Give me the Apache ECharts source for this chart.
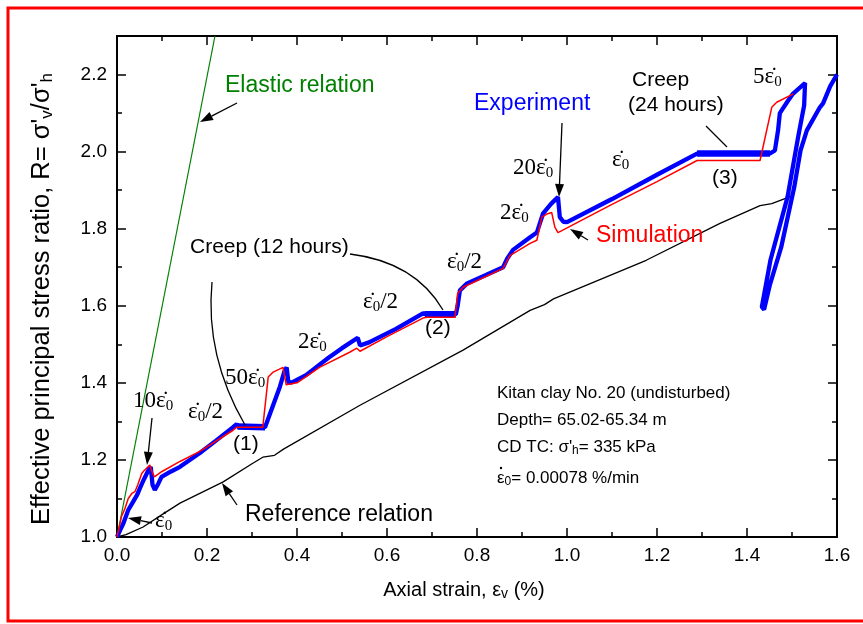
<!DOCTYPE html>
<html><head><meta charset="utf-8">
<script src="https://cdn.jsdelivr.net/npm/echarts@6/dist/echarts.min.js"></script>
<style>html,body{margin:0;padding:0;background:#fff}#c{width:863px;height:624px}</style>
</head><body><div id="c"></div>
<script>
// ---- data ----
const experiment = [[0,1.0],[0.007,1.018],[0.014,1.035],[0.025,1.07],[0.036,1.092],[0.045,1.11],[0.051,1.127],[0.06,1.15],[0.07,1.174],[0.075,1.182],[0.079,1.135],[0.084,1.122],[0.092,1.139],[0.099,1.156],[0.12,1.17],[0.14,1.182],[0.184,1.218],[0.22,1.25],[0.258,1.285],[0.266,1.293],[0.27,1.285],[0.329,1.285],[0.34,1.32],[0.362,1.39],[0.372,1.43],[0.377,1.44],[0.381,1.40],[0.39,1.402],[0.42,1.42],[0.47,1.465],[0.5,1.49],[0.535,1.517],[0.54,1.497],[0.56,1.505],[0.62,1.54],[0.68,1.58],[0.684,1.578],[0.753,1.578],[0.757,1.60],[0.762,1.64],[0.778,1.658],[0.82,1.68],[0.858,1.70],[0.867,1.722],[0.88,1.745],[0.918,1.778],[0.933,1.79],[0.947,1.84],[0.965,1.865],[0.98,1.882],[0.984,1.83],[0.992,1.818],[1.0,1.817],[1.1,1.877],[1.2,1.94],[1.289,1.995],[1.451,1.995],[1.462,2.003],[1.469,2.055],[1.473,2.10],[1.49,2.13],[1.502,2.15],[1.529,2.178],[1.527,2.12],[1.514,2.04],[1.49,1.882],[1.452,1.718],[1.433,1.597],[1.438,1.59],[1.451,1.655],[1.476,1.752],[1.505,1.908],[1.519,2.003],[1.533,2.055],[1.562,2.115],[1.569,2.125],[1.585,2.17],[1.6,2.2]];
const creepSegments = [[[0.268,1.287],[0.329,1.285]],[[0.684,1.578],[0.753,1.578]],[[1.289,1.995],[1.451,1.995]]];
const simulation = [[0,1.0],[0.01,1.053],[0.018,1.075],[0.025,1.1],[0.033,1.113],[0.04,1.118],[0.046,1.135],[0.055,1.165],[0.06,1.172],[0.073,1.187],[0.077,1.172],[0.083,1.156],[0.09,1.162],[0.1,1.17],[0.14,1.196],[0.184,1.222],[0.258,1.277],[0.266,1.285],[0.324,1.285],[0.336,1.415],[0.347,1.428],[0.369,1.44],[0.376,1.395],[0.40,1.40],[0.45,1.44],[0.518,1.48],[0.533,1.49],[0.54,1.482],[0.60,1.52],[0.68,1.568],[0.689,1.57],[0.751,1.57],[0.757,1.632],[0.769,1.648],[0.858,1.697],[0.873,1.73],[0.918,1.762],[0.933,1.77],[0.944,1.83],[0.955,1.838],[0.966,1.842],[0.973,1.804],[0.98,1.79],[1.1,1.863],[1.2,1.922],[1.289,1.977],[1.429,1.977],[1.455,2.115],[1.466,2.128],[1.503,2.15]];
const reference = [[0,1.0],[0.02,1.006],[0.058,1.026],[0.1,1.058],[0.14,1.088],[0.236,1.143],[0.3,1.19],[0.324,1.207],[0.35,1.212],[0.37,1.228],[0.54,1.342],[0.769,1.485],[0.918,1.588],[0.95,1.603],[0.97,1.618],[1.176,1.718],[1.34,1.814],[1.429,1.86],[1.455,1.865],[1.502,1.886]];
const elastic = [[0,1.0],[0.2177,2.3]];
const xRange = [0, 1.6], xStep = 0.2;
const yRange = [1.0, 2.3], yStep = 0.2;

// ---- styling helpers ----
const SANS = 'Liberation Sans', SERIF = 'Liberation Serif';
const ED = '\u03B5\u0307'; // epsilon with dot
function axisCommon(extra){
  return Object.assign({
    type:'value', axisLine:{show:true,onZero:false,lineStyle:{color:'#000',width:2}},
    splitLine:{show:false}, minorSplitLine:{show:false},
    axisTick:{show:true,inside:true,length:9,lineStyle:{color:'#000',width:1.5}},
  }, extra);
}
const chart = echarts.init(document.getElementById('c'), null, {renderer:'canvas'});
const xLab = {color:'#000',fontSize:19,fontFamily:SANS,margin:9,formatter:v=>v.toFixed(1)};
const minorX = {show:true,splitNumber:2,length:5,lineStyle:{color:'#000',width:1.5}};
const option = {
  animation:false, backgroundColor:'#fff',
  grid:{left:117,right:26,top:36,bottom:87,containLabel:false},
  xAxis:[
    axisCommon({min:xRange[0],max:xRange[1],interval:xStep,position:'bottom',minorTick:minorX,axisLabel:xLab}),
    axisCommon({min:xRange[0],max:xRange[1],interval:xStep,position:'top',minorTick:minorX,axisLabel:{show:false}})
  ],
  yAxis:[
    axisCommon({min:yRange[0],max:yRange[1],interval:yStep,position:'left',axisLabel:{color:'#000',fontSize:19,fontFamily:SANS,margin:10,formatter:v=>v>2.25?'':v.toFixed(1)}}),
    axisCommon({min:yRange[0],max:yRange[1],interval:yStep/2,position:'left',axisTick:{show:true,inside:true,length:5,lineStyle:{color:'#000',width:1.5}},axisLabel:{show:false}}),
    axisCommon({min:yRange[0],max:yRange[1],interval:yStep,position:'right',axisLabel:{show:false}}),
    axisCommon({min:yRange[0],max:yRange[1],interval:yStep/2,position:'right',axisTick:{show:true,inside:true,length:5,lineStyle:{color:'#000',width:1.5}},axisLabel:{show:false}})
  ],
  series:[
    {type:'line',data:reference,symbol:'none',lineStyle:{color:'#000',width:1.3},z:2},
    {type:'line',data:elastic,symbol:'none',lineStyle:{color:'#008000',width:1.2},z:2},
    {type:'line',data:experiment,symbol:'none',lineStyle:{color:'#0000ff',width:4.3},z:3},
    ...creepSegments.map(s=>({type:'line',data:s,symbol:'none',lineStyle:{color:'#0000ff',width:6.5},z:3})),
    {type:'line',data:simulation,symbol:'none',lineStyle:{color:'#ff0000',width:1.5},z:4}
  ]
};
chart.setOption(option);

// ---- annotations ----
const subSerif = {fontFamily:SERIF,fontSize:15,lineHeight:12,verticalAlign:'bottom',fill:'#000'};
function serifLabel(x,y,text){
  return {type:'text',x,y,z:10,style:{text,fontFamily:SERIF,fontSize:23,lineHeight:26,fill:'#000',align:'left',verticalAlign:'middle',rich:{s:subSerif}}};
}
function sansLabel(x,y,text,size,color,extra){
  return {type:'text',x,y,z:10,style:Object.assign({text,fontFamily:SANS,fontSize:size,lineHeight:size+3,fill:color,align:'left',verticalAlign:'middle',
    rich:{s:{fontFamily:SANS,fontSize:Math.round(size*0.7),lineHeight:10,verticalAlign:'bottom',fill:color}}},extra||{})};
}
function arrow(x1,y1,x2,y2){
  const a=Math.atan2(y2-y1,x2-x1),L=13,W=4.5,c=Math.cos(a),s=Math.sin(a);
  const bx=x2-L*c,by=y2-L*s;
  return [{type:'line',z:10,shape:{x1,y1,x2:bx,y2:by},style:{stroke:'#000',lineWidth:1.3}},
          {type:'polygon',z:10,shape:{points:[[x2,y2],[bx+W*s,by-W*c],[bx-W*s,by+W*c]]},style:{fill:'#000'}}];
}
const g = [
  {type:'rect',z:20,shape:{x:8,y:8,width:900,height:613},style:{fill:'none',stroke:'#ff0000',lineWidth:3}},
  sansLabel(225,86,'Elastic relation',23,'#008000'),
  ...arrow(237,103,200,122),
  sansLabel(474,104,'Experiment',23,'#0000ff'),
  ...arrow(562,123,559,197),
  sansLabel(632,80,'Creep',21,'#000'),
  sansLabel(628,105,'(24 hours)',21,'#000'),
  {type:'line',z:10,shape:{x1:706,y1:126,x2:727,y2:147},style:{stroke:'#000',lineWidth:1.3}},
  sansLabel(712,178,'(3)',21,'#000'),
  serifLabel(753,77,'5'+ED+'{s|0}'),
  serifLabel(612,160,ED+'{s|0}'),
  serifLabel(513,168,'20'+ED+'{s|0}'),
  serifLabel(500,213,'2'+ED+'{s|0}'),
  sansLabel(596,236,'Simulation',23,'#ff0000'),
  ...arrow(588,240,570,229),
  serifLabel(447,262,ED+'{s|0}/2'),
  serifLabel(363,302,ED+'{s|0}/2'),
  sansLabel(425,328,'(2)',21,'#000'),
  sansLabel(190,247,'Creep (12 hours)',21,'#000'),
  {type:'bezierCurve',z:10,shape:{x1:350,y1:254,x2:443,y2:310,cpx1:415,cpy1:262},style:{stroke:'#000',lineWidth:1.3,fill:'none'}},
  {type:'bezierCurve',z:10,shape:{x1:212,y1:282,x2:245,y2:425,cpx1:205,cpy1:356},style:{stroke:'#000',lineWidth:1.3,fill:'none'}},
  sansLabel(233,444,'(1)',21,'#000'),
  serifLabel(225,378,'50'+ED+'{s|0}'),
  serifLabel(298,342,'2'+ED+'{s|0}'),
  serifLabel(188,412,ED+'{s|0}/2'),
  serifLabel(133,401,'10'+ED+'{s|0}'),
  ...arrow(152,418,147,465),
  serifLabel(155,521,ED+'{s|0}'),
  ...arrow(152,523,128,518),
  sansLabel(245,515,'Reference relation',23,'#000'),
  ...arrow(237,505,222,483),
  sansLabel(497,393,'Kitan clay No. 20 (undisturbed)',17,'#000'),
  sansLabel(497,420,'Depth= 65.02-65.34 m',17,'#000'),
  sansLabel(497,447,"CD TC: \u03C3'{s|h}= 335 kPa",17,'#000'),
  sansLabel(497,478,'\u03B5{s|0}= 0.00078 %/min',17,'#000'),
  {type:'circle',z:10,shape:{cx:501,cy:468,r:1.2},style:{fill:'#000'}},
  sansLabel(464,590,'Axial strain, \u03B5{s|v} (%)',20,'#000',{align:'center'}),
  {type:'text',x:42,y:299,rotation:Math.PI/2,z:10,style:{text:"Effective principal stress ratio, R= \u03C3'{s|v}/\u03C3'{s|h}",fontFamily:SANS,fontSize:25.5,lineHeight:28,fill:'#000',align:'center',verticalAlign:'middle',
    rich:{s:{fontFamily:SANS,fontSize:17,lineHeight:12,verticalAlign:'bottom',fill:'#000'}}}}
];
chart.setOption({graphic:g});
</script></body></html>
